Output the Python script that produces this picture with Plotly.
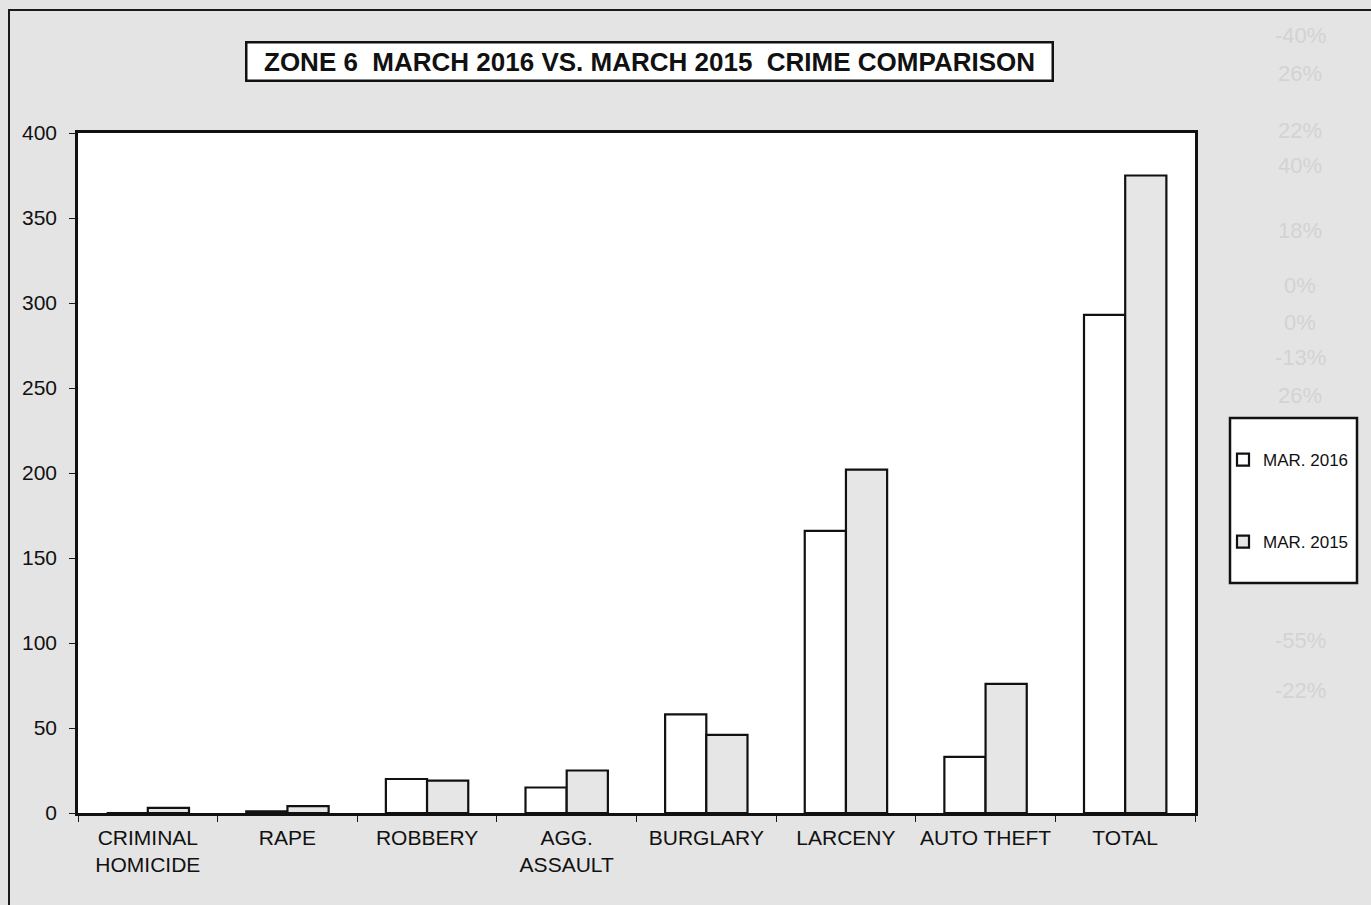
import plotly.graph_objects as go

categories = ["CRIMINAL<br>HOMICIDE", "RAPE", "ROBBERY", "AGG.<br>ASSAULT",
              "BURGLARY", "LARCENY", "AUTO THEFT", "TOTAL"]
mar_2016 = [0, 1, 20, 15, 58, 166, 33, 293]
mar_2015 = [3, 4, 19, 25, 46, 202, 76, 375]
series_names = ["MAR. 2016", "MAR. 2015"]
y_ticks = [0, 50, 100, 150, 200, 250, 300, 350, 400]
title_text = "ZONE 6&nbsp;&nbsp;MARCH 2016 VS. MARCH 2015&nbsp;&nbsp;CRIME COMPARISON"

# faint bleed-through text visible on the scanned page (right column)
ghost_labels = ["-40%", "26%", "22%", "40%", "18%", "0%", "0%", "-13%", "26%", "-55%", "-22%"]
ghost_y = [35, 73, 130, 165, 230, 285, 322, 357, 395, 640, 690]

W, H = 1371, 905
L, R, T, B = 78, 1195, 133, 813
FONT = "Liberation Sans, Arial, sans-serif"


def px_x(px):
    return (px - L) / (R - L)


def px_y(py):
    return (B - py) / (B - T)


fig = go.Figure()
fig.add_trace(go.Bar(
    x=categories, y=mar_2016, name=series_names[0], legendgroup="a",
    marker=dict(color="white", line=dict(color="#111111", width=2.2)),
))
fig.add_trace(go.Bar(
    x=categories, y=mar_2015, name=series_names[1], legendgroup="b",
    marker=dict(color="#e6e6e6", line=dict(color="#111111", width=2.2)),
))

shapes = [
    # outer page frame (left and top edges visible)
    dict(type="rect", xref="paper", yref="paper", layer="below",
         x0=px_x(9), x1=px_x(1420), y0=px_y(960), y1=px_y(10),
         line=dict(color="#1a1a1a", width=2), fillcolor="rgba(0,0,0,0)"),
    # legend box
    dict(type="rect", xref="paper", yref="paper", layer="above",
         x0=px_x(1230), x1=px_x(1357), y0=px_y(583), y1=px_y(418),
         line=dict(color="#111111", width=2.5), fillcolor="white"),
]

annotations = [
    dict(text="<b>" + title_text + "</b>", xref="paper", yref="paper",
         x=px_x(649), y=px_y(62), xanchor="center", yanchor="middle",
         showarrow=False, font=dict(family=FONT, size=26, color="#111111"),
         bgcolor="white", bordercolor="#111111", borderwidth=2.5,
         width=802, height=34),
]
for lab, gy in zip(ghost_labels, ghost_y):
    annotations.append(dict(text=lab, xref="paper", yref="paper",
                            x=px_x(1300), y=px_y(gy), xanchor="center", yanchor="middle",
                            showarrow=False, font=dict(family=FONT, size=22, color="#d3d3d3")))

fig.update_layout(
    width=W, height=H,
    margin=dict(l=L, r=W - R, t=T, b=H - B, pad=0, autoexpand=False),
    paper_bgcolor="#e4e4e4", plot_bgcolor="white",
    barmode="group", bargap=0.41, bargroupgap=0,
    font=dict(family=FONT, size=21, color="#111111"),
    showlegend=True,
    legend=dict(x=px_x(1223), y=px_y(442), xanchor="left", yanchor="top",
                bgcolor="rgba(0,0,0,0)", borderwidth=0,
                font=dict(family=FONT, size=17, color="#111111"),
                tracegroupgap=57, itemwidth=30),
    shapes=shapes, annotations=annotations,
)
fig.update_xaxes(
    showline=True, linecolor="#111111", linewidth=2.5, mirror=True,
    ticks="outside", tickson="boundaries", ticklen=6, tickcolor="#1a1a1a", tickwidth=1,
    showgrid=False, tickfont=dict(family=FONT, size=21, color="#111111"),
    ticklabelstandoff=4, tickangle=0, automargin=False,
)
fig.update_yaxes(
    range=[0, 400], tickvals=y_ticks, showline=True, linecolor="#111111", linewidth=2.5,
    mirror=True, ticks="outside", ticklen=6, tickcolor="#1a1a1a", tickwidth=1,
    showgrid=False, zeroline=False, tickfont=dict(family=FONT, size=21, color="#111111"),
    ticklabelstandoff=8, automargin=False,
)

fig.write_html("out.html", config={"displayModeBar": False},
               post_script="document.body.style.margin='0';document.body.style.overflow='hidden';")
